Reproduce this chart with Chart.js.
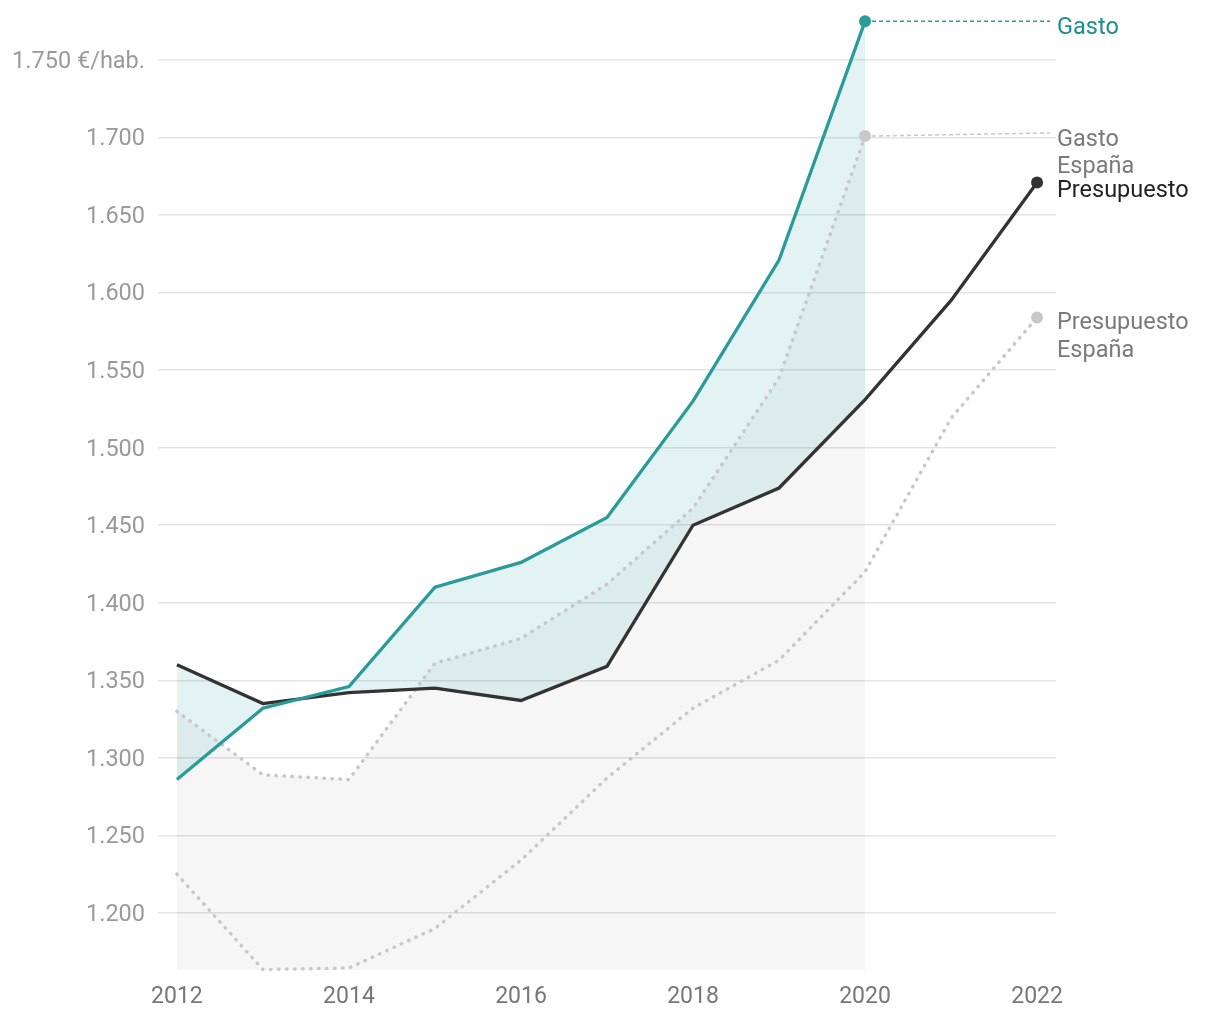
<!DOCTYPE html>
<html>
<head>
<meta charset="utf-8">
<script src="https://cdn.jsdelivr.net/npm/chart.js@4.4.1/dist/chart.umd.min.js"></script>
<style>
  body { margin: 0; background: #fff; overflow: hidden; }
  #wrap { width: 1220px; height: 1020px; position: relative; }
</style>
</head>
<body>
<div id="wrap"><canvas id="myChart"></canvas></div>
<script>
// years on the x axis
const years = [2012, 2013, 2014, 2015, 2016, 2017, 2018, 2019, 2020, 2021, 2022];
// euros per inhabitant
const gasto = [1286, 1332, 1346, 1410, 1426, 1455, 1530, 1621, 1775];
const presupuesto = [1360, 1335, 1342, 1345, 1337, 1359, 1450, 1474, 1531, 1595, 1671];
const gastoEspana = [1330, 1289, 1286, 1361, 1377, 1412, 1461, 1545, 1701];
const presupuestoEspana = [1225, 1163.5, 1164.5, 1190, 1234, 1287, 1332, 1363, 1420, 1519, 1584];
const yTicks = [1200, 1250, 1300, 1350, 1400, 1450, 1500, 1550, 1600, 1650, 1700, 1750];
const xTicks = [2012, 2014, 2016, 2018, 2020, 2022];

const TEAL = '#2a9a9a';
const DARK = '#333333';
const GREY = '#c8c8c8';
const FONT = 'Roboto';

function pts(arr) {
	return arr.map(function(v, i) { return { x: years[i], y: v }; });
}
function lastOnly(arr, r) {
	return arr.map(function(v, i) { return i === arr.length - 1 ? r : 0; });
}
function fmt(v) {
	return String(v).replace(/\B(?=(\d{3})+(?!\d))/g, '.');
}

// labels at the right end + leader lines
const endLabels = {
	id: 'endLabels',
	afterDatasetsDraw(chart) {
		const ctx = chart.ctx;
		const xs = chart.scales.x, ys = chart.scales.y;
		const right = chart.chartArea.right;
		ctx.save();
		// leader lines from the 2020 points
		ctx.lineWidth = 1.5;
		ctx.setLineDash([4, 3]);
		ctx.strokeStyle = TEAL;
		var y1 = ys.getPixelForValue(gasto[gasto.length - 1]);
		ctx.beginPath(); ctx.moveTo(xs.getPixelForValue(2020) + 7, y1); ctx.lineTo(right - 6, y1); ctx.stroke();
		ctx.strokeStyle = GREY;
		var y2 = ys.getPixelForValue(gastoEspana[gastoEspana.length - 1]);
		ctx.beginPath(); ctx.moveTo(xs.getPixelForValue(2020) + 7, y2); ctx.lineTo(right - 6, y2 - 3); ctx.stroke();
		ctx.setLineDash([]);

		ctx.font = '23.5px ' + FONT;
		ctx.textAlign = 'left';
		ctx.textBaseline = 'middle';
		var lx = right + 1;
		ctx.fillStyle = '#1c8f8f';
		ctx.fillText('Gasto', lx, y1 + 7);
		ctx.fillStyle = '#7a7a7a';
		ctx.fillText('Gasto', lx, y2 + 4);
		ctx.fillText('España', lx, y2 + 31);
		var y3 = ys.getPixelForValue(presupuesto[presupuesto.length - 1]);
		ctx.fillStyle = '#222';
		ctx.fillText('Presupuesto', lx, y3 + 9);
		var y4 = ys.getPixelForValue(presupuestoEspana[presupuestoEspana.length - 1]);
		ctx.fillStyle = '#7a7a7a';
		ctx.fillText('Presupuesto', lx, y4 + 6);
		ctx.fillText('España', lx, y4 + 34);
		ctx.restore();
	}
};

var ctx = document.getElementById('myChart').getContext('2d');
var myChart = new Chart(ctx, {
	type: 'line',
	data: {
		datasets: [{
			label: 'Gasto',
			data: pts(gasto),
			borderColor: TEAL,
			borderWidth: 3.3,
			backgroundColor: 'rgba(38,153,153,0.13)',
			fill: 1,
			clip: false,
			pointRadius: lastOnly(gasto, 6),
			pointBackgroundColor: TEAL,
			pointBorderWidth: 0,
			tension: 0
		}, {
			label: 'Presupuesto',
			data: pts(presupuesto),
			borderColor: DARK,
			borderWidth: 3.3,
			fill: false,
			clip: false,
			pointRadius: lastOnly(presupuesto, 6),
			pointBackgroundColor: DARK,
			pointBorderWidth: 0,
			tension: 0
		}, {
			label: 'Gasto España',
			data: pts(gastoEspana),
			borderColor: GREY,
			borderWidth: 3.5,
			borderDash: [0.5, 7.5],
			borderCapStyle: 'round',
			backgroundColor: 'rgba(0,0,0,0.035)',
			fill: 'start',
			pointRadius: lastOnly(gastoEspana, 6),
			pointBackgroundColor: GREY,
			pointBorderWidth: 0,
			tension: 0
		}, {
			label: 'Presupuesto España',
			data: pts(presupuestoEspana),
			borderColor: GREY,
			borderWidth: 3.5,
			borderDash: [0.5, 7.5],
			borderCapStyle: 'round',
			fill: false,
			clip: false,
			pointRadius: lastOnly(presupuestoEspana, 6),
			pointBackgroundColor: GREY,
			pointBorderWidth: 0,
			tension: 0
		}]
	},
	options: {
		responsive: true,
		maintainAspectRatio: false,
		animation: false,
		layout: { padding: { top: 20, right: 164, left: 0, bottom: 0 } },
		plugins: {
			legend: { display: false },
			tooltip: { enabled: false },
			filler: { drawTime: 'beforeDatasetsDraw' }
		},
		scales: {
			x: {
				type: 'linear',
				min: 2011.78,
				max: 2022.22,
				afterBuildTicks: function(s) { s.ticks = xTicks.map(function(v) { return { value: v }; }); },
				afterFit: function(s) { s.height = 50; s.paddingLeft = 0; s.paddingRight = 0; },
				grid: { display: false, drawTicks: false },
				border: { display: false },
				ticks: {
					padding: 13,
					color: '#777',
					font: { family: FONT, size: 23 },
					callback: function(v) { return String(v); }
				}
			},
			y: {
				min: 1163.2,
				max: 1775.8,
				afterBuildTicks: function(s) { s.ticks = yTicks.map(function(v) { return { value: v }; }); },
				afterFit: function(s) { s.width = 158; s.paddingTop = 0; s.paddingBottom = 0; },
				grid: { color: '#e4e4e4', lineWidth: 1.5, drawTicks: false },
				border: { display: false },
				ticks: {
					padding: 13,
					labelOffset: 2,
					color: '#9a9a9a',
					font: { family: FONT, size: 23.5 },
					callback: function(v) { return v === 1750 ? fmt(v) + ' €/hab.' : fmt(v); }
				}
			}
		}
	},
	plugins: [endLabels]
});
</script>
</body>
</html>
